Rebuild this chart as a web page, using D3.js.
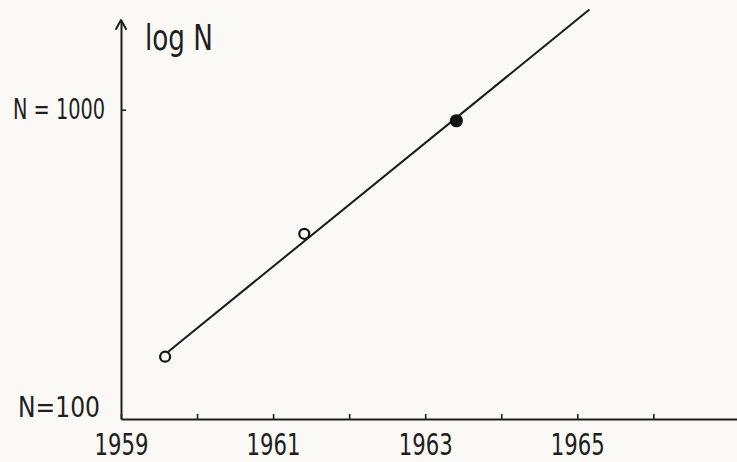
<!DOCTYPE html>
<html>
<head>
<meta charset="utf-8">
<script src="https://cdn.jsdelivr.net/npm/d3@7"></script>
<style>
  body { margin: 0; background: #faf9f5; }
  svg { display: block; }
  .lbl { font-family: "DejaVu Sans", sans-serif; fill: #1e1e1e; }
</style>
</head>
<body>
<svg id="chart" width="737" height="462"></svg>
<script>
// years on the x axis (one tick per year, every other one labelled)
var yearTicks  = [1959, 1960, 1961, 1962, 1963, 1964, 1965, 1966];
var yearLabels = ["1959", "", "1961", "", "1963", "", "1965", ""];
// N on a log axis
var nTicks  = [100, 1000];
var nLabels = ["N=100", "N = 1000"];
// observed points
var pointYears  = [1959.58, 1961.41, 1963.41];
var pointN      = [159, 397, 921];
var pointFilled = [false, false, true];
// fitted straight line (log N against year)
var fitYears = [1959.62, 1965.16];
var fitN     = [165, 2107];

var svg = d3.select("#chart");
var x = d3.scaleLinear().domain([1959, 1967.1]).range([121, 737]);
var y = d3.scaleLog().domain([100, 1950]).range([419, 20]);
var ink = "#1e1e1e";

// x axis, ticks pointing up
var xAxis = d3.axisBottom(x)
    .tickValues(yearTicks)
    .tickFormat(function(d, i) { return yearLabels[i]; })
    .tickSizeInner(-5).tickSizeOuter(0).tickPadding(15);
var gx = svg.append("g").attr("transform", "translate(0," + y(100) + ")").call(xAxis);
gx.select(".domain").attr("stroke", ink).attr("stroke-width", 2);
gx.selectAll(".tick line").attr("stroke", ink).attr("stroke-width", 1.6);
gx.selectAll(".tick text")
  .attr("class", "lbl").attr("fill", ink)
  .style("font-size", "30px")
  .attr("textLength", function(d, i) { return yearLabels[i] ? 54 : null; })
  .attr("lengthAdjust", "spacingAndGlyphs");

// y axis
var yAxis = d3.axisLeft(y)
    .tickValues(nTicks)
    .tickFormat(function(d, i) { return nLabels[i]; })
    .tickSizeInner(-5).tickSizeOuter(0).tickPadding(16);
var gy = svg.append("g").attr("transform", "translate(" + x(1959) + ",0)").call(yAxis);
gy.select(".domain").attr("stroke", ink).attr("stroke-width", 2);
gy.selectAll(".tick line").attr("stroke", ink).attr("stroke-width", 1.6);
gy.selectAll(".tick text")
  .attr("class", "lbl").attr("fill", ink)
  .style("font-size", "28px")
  .attr("textLength", function(d) { return d === 1000 ? 92 : 82; })
  .attr("lengthAdjust", "spacingAndGlyphs");
var bottomTick = gy.selectAll(".tick").filter(function(d) { return d === 100; });
bottomTick.select("line").remove();
bottomTick.select("text").attr("x", -21).attr("y", -11);

// arrow head on top of y axis
var ax = x(1959), ay = y(1950);
svg.append("path")
   .attr("d", "M" + (ax - 5) + "," + (ay + 9) + " L" + ax + "," + ay + " L" + (ax + 5) + "," + (ay + 9))
   .attr("fill", "none").attr("stroke", ink).attr("stroke-width", 2)
   .attr("stroke-linejoin", "round").attr("stroke-linecap", "round");

svg.append("text").attr("class", "lbl")
   .attr("x", ax + 24).attr("y", 50)
   .style("font-size", "36px")
   .attr("textLength", 68).attr("lengthAdjust", "spacingAndGlyphs")
   .text("log N");

// fitted line
var line = d3.line().x(function(d) { return x(d[0]); }).y(function(d) { return y(d[1]); });
svg.append("path")
   .datum(d3.zip(fitYears, fitN))
   .attr("d", line)
   .attr("fill", "none").attr("stroke", "#1a1a1a").attr("stroke-width", 2);

// points
svg.selectAll(".pt")
   .data(d3.zip(pointYears, pointN, pointFilled))
   .enter().append("circle")
   .attr("class", "pt")
   .attr("cx", function(d) { return x(d[0]); })
   .attr("cy", function(d) { return y(d[1]); })
   .attr("r", function(d) { return d[2] ? 5.5 : 5; })
   .attr("fill", function(d) { return d[2] ? "#111" : "#faf9f5"; })
   .attr("stroke", "#111").attr("stroke-width", 2.2);
</script>
</body>
</html>
